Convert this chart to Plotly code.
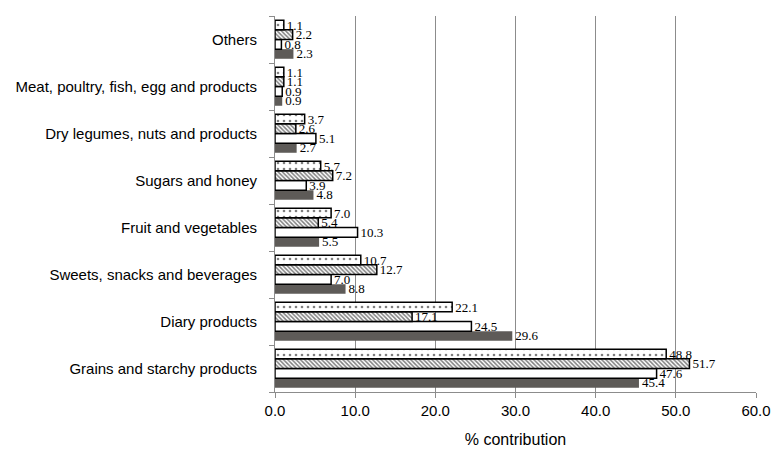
import plotly.graph_objects as go

categories = ["Grains and starchy products", "Diary products", "Sweets, snacks and beverages",
              "Fruit and vegetables", "Sugars and honey", "Dry legumes, nuts and products",
              "Meat, poultry, fish, egg and products", "Others"]
# series listed top-to-bottom within each group in the reference
dotted = [48.8, 22.1, 10.7, 7.0, 5.7, 3.7, 1.1, 1.1]
hatched = [51.7, 17.1, 12.7, 5.4, 7.2, 2.6, 1.1, 2.2]
white = [47.6, 24.5, 7.0, 10.3, 3.9, 5.1, 0.9, 0.8]
gray = [45.4, 29.6, 8.8, 5.5, 4.8, 2.7, 0.9, 2.3]
x_ticks = [0, 10, 20, 30, 40, 50, 60]

fig = go.Figure()
label_font = dict(family="Liberation Serif, Times New Roman, serif", size=13, color="black")

def add(vals, name, color, pattern=None, line_w=1.5):
    marker = dict(color=color, line=dict(color="black", width=line_w))
    if pattern:
        marker["pattern"] = pattern
    fig.add_trace(go.Bar(
        y=categories, x=vals, orientation="h", name=name, marker=marker,
        text=[f"{v:.1f}" for v in vals], textposition="outside", textfont=label_font,
        outsidetextfont=label_font,
        constraintext="none", cliponaxis=False, showlegend=False,
    ))

# Plotly stacks first trace at the bottom of the group for horizontal bars
add(gray, "gray", "#5e5b58", line_w=0)
add(white, "white", "white")
add(hatched, "hatched", "white", dict(shape="\\", fgcolor="black", bgcolor="white", size=3, solidity=0.5))
add(dotted, "dotted", "white", dict(shape=".", fgcolor="black", bgcolor="white", size=6, solidity=0.15))

fig.update_layout(
    width=772, height=455,
    margin=dict(l=275, r=16, t=16, b=63),
    barmode="group", bargap=0.18, bargroupgap=0,
    plot_bgcolor="white", paper_bgcolor="white",
    font=dict(family="Liberation Sans, Arial, sans-serif", size=15, color="black"),
    xaxis=dict(
        range=[0, 60], tickvals=x_ticks, ticktext=[f"{v:.1f}" for v in x_ticks],
        showgrid=True, gridcolor="#8c8c8c", gridwidth=1,
        showline=True, linecolor="#8c8c8c", linewidth=1,
        ticks="outside", ticklen=5, tickcolor="#8c8c8c",
        zeroline=False, automargin=False,
        title=dict(text="% contribution", font=dict(size=16), standoff=15),
        tickfont=dict(size=15),
    ),
    yaxis=dict(
        showline=True, linecolor="#8c8c8c", linewidth=1,
        ticks="outside", ticklen=5, tickcolor="#8c8c8c", tickson="boundaries",
        showgrid=False, tickfont=dict(size=15), automargin=False,
        ticklabelstandoff=14,
    ),
)

# remove the default 8px page margin so the figure fills the window exactly
fig.write_html(
    "out.html",
    config={"displayModeBar": False},
    post_script="document.body.style.margin='0';document.body.style.overflow='hidden';",
)
